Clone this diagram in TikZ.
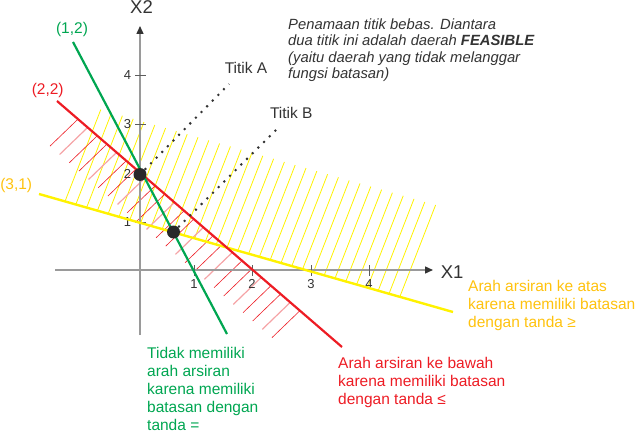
\documentclass[tikz,border=0pt]{standalone}
\usepackage{fontspec}
\setmainfont{Liberation Sans}
\usepackage{tikz}
\usetikzlibrary{arrows.meta,calc}
\definecolor{ink}{HTML}{333333}
\definecolor{axisgray}{HTML}{9A9A9A}
\definecolor{lpgreen}{HTML}{00A651}
\definecolor{lpred}{HTML}{ED1C24}
\definecolor{lppink}{HTML}{F5A3A6}
\definecolor{lpyellow}{HTML}{FFF200}
\definecolor{lpgold}{HTML}{FFC20E}

\begin{document}
\begin{tikzpicture}[x=1pt,y=-1pt]
    \tikzset{
      axisline/.style={draw=axisgray,line width=1.4pt,-{Triangle[length=8pt,width=7pt,color=ink]}},
      axtick/.style={draw=ink!80,line width=0.8pt},
      ticklabel/.style={font=\fontsize{13}{13}\selectfont,text=ink,inner sep=0pt},
      axislabel/.style={font=\fontsize{18.5}{18.5}\selectfont,text=ink,inner sep=0pt},
      lpline/.style={line width=2.2pt},
      yhatch/.style={draw=lpyellow,line width=0.8pt},
      rhatch/.style={draw=lpred,line width=0.6pt},
      phatch/.style={draw=lppink,line width=1.2pt},
      vertex/.style={circle,fill=ink!80!black,inner sep=0pt,minimum size=13pt},
      dotline/.style={draw=ink,line width=2pt,dash pattern=on 2pt off 6pt},
      pairlabel/.style={font=\fontsize{15.5}{15.5}\selectfont,inner sep=0pt,anchor=base},
      note/.style={font=\fontsize{15.5}{18}\selectfont,align=left,inner sep=0pt,anchor=north west}
    }
    \useasboundingbox (0,0) rectangle (640,433);
    \foreach \i in {0,...,31}
      \draw[yhatch] ({65+10.8*\i},{194+0.285*(26+10.8*\i)}) -- ++(35.8,-91.8);
    \foreach \i in {0,...,23}{
      \pgfmathsetmacro{\rx}{78+9.65*\i}
      \pgfmathtruncatemacro{\k}{mod(\i,3)}
      \coordinate (h) at (\rx,{101+0.863*(\rx-57)});
      \ifnum\k=1 \draw[phatch] (h) -- ++(-28,27); \else \draw[rhatch] (h) -- ++(-28,27); \fi
    }
    \coordinate (xl) at (55,270);
    \coordinate (xr) at (433,270);
    \coordinate (yb) at (140,335);
    \coordinate (yt) at (140,26);
    \draw[axisline] (xl) -- (xr);
    \draw[axisline] (yb) -- (yt);
    \foreach \v/\py in {1/222.5,2/174,3/124,4/75}{
      \draw[axtick] (135,\py) -- (146,\py);
      \node[ticklabel] (ylab\v) at (127.5,\py) {\v};
    }
    \foreach \v/\px in {1/194,2/252,3/311,4/369}{
      \draw[axtick] (\px,265) -- (\px,276);
      \node[ticklabel] (xlab\v) at (\px,284) {\v};
    }
    \node[axislabel,anchor=base] (xtwo) at (141.5,14) {X2};
    \node[axislabel,anchor=base west] (xone) at (440.7,278.3) {X1};
    \coordinate (yA) at (39,194);
    \coordinate (yB) at (453,312);
    \coordinate (rA) at (57,101);
    \coordinate (rB) at (342,347);
    \coordinate (gA) at (73,42);
    \coordinate (gB) at (227,334);
    \draw[lpline,lpyellow,line width=2.4pt] (yA) -- (yB);
    \draw[lpline,lpred] (rA) -- (rB);
    \draw[lpline,lpgreen] (gA) -- (gB);
    \node[vertex] (ptA) at (140,174.5) {};
    \node[vertex] (ptB) at (173.5,232) {};
    \coordinate (endA) at (229,84);
    \coordinate (endB) at (278,128);
    \draw[dotline] (ptA) -- (endA);
    \draw[dotline] (ptB) -- (endB);
    \node[pairlabel,text=lpgreen] (lgreen) at (72,33.3) {(1,2)};
    \node[pairlabel,text=lpred] (lred) at (47.7,95) {(2,2)};
    \node[pairlabel,text=lpgold] (lyellow) at (16.2,189.3) {(3,1)};
    \node[pairlabel,text=ink] (titikA) at (246,74) {Titik A};
    \node[pairlabel,text=ink] (titikB) at (291.3,119) {Titik B};
    \node[note,font=\itshape\fontsize{14.8}{16.3}\selectfont,text=ink] (info) at (288,18.5) {Penamaan titik bebas. Diantara\\dua titik ini adalah daerah \textbf{FEASIBLE}\\(yaitu daerah yang tidak melanggar\\fungsi batasan)};
    \node[note,text=lpgold] (upnote) at (468,279.7) {Arah arsiran ke atas\\karena memiliki batasan\\dengan tanda ≥};
    \node[note,text=lpred] (downnote) at (338,357.5) {Arah arsiran ke bawah\\karena memiliki batasan\\dengan tanda ≤};
    \node[note,font=\fontsize{15.5}{17.8}\selectfont,text=lpgreen] (eqnote) at (147,347.5) {Tidak memiliki\\arah arsiran\\karena memiliki\\batasan dengan\\tanda =};
  \end{tikzpicture}
\end{document}
